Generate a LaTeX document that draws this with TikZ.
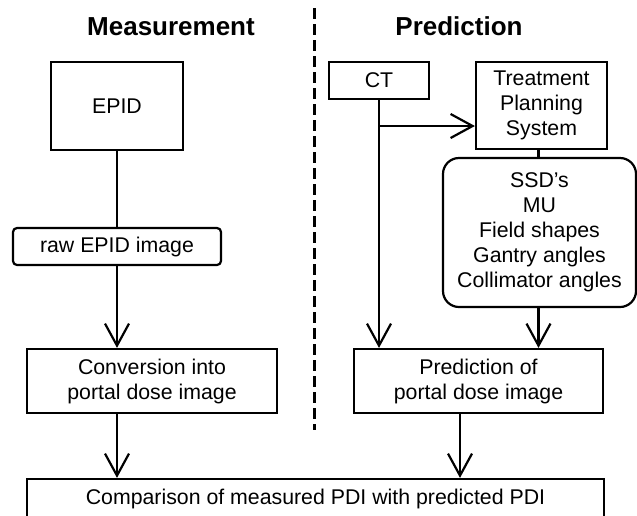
\documentclass[tikz,border=0pt]{standalone}
\usepackage{fontspec}
\setmainfont{Liberation Sans}
\usepackage{tikz}
\usetikzlibrary{arrows.meta}

\begin{document}
\begin{tikzpicture}[x=1pt, y=-1pt,
  box/.style={draw, line width=2.2pt, align=center, inner sep=0pt,
    font=\fontsize{21.3}{25}\selectfont},
  roundbox/.style={box, rounded corners=#1},
  arr/.style={line width=2.2pt,
    -{Straight Barb[length=22pt,width=24pt,line width=2.2pt]}},
  title/.style={font=\fontsize{26}{30}\selectfont\bfseries, anchor=base}]
\useasboundingbox (0,0) rectangle (637,515);

% headings and divider
\node[title] (meas) at (171,35) {Measurement};
\node[title] (pred) at (459,35) {Prediction};
\draw[line width=3pt, dash pattern=on 11pt off 5pt] (314,8) -- (314,430);

% measurement branch
\node[box, minimum width=132, minimum height=88] (epid) at (117,106) {EPID};
\node[roundbox=4pt, minimum width=208, minimum height=37] (raw) at (117,246.5) {raw EPID image};
\node[box, minimum width=250, minimum height=64] (conv) at (152,381)
  {Conversion into\\portal dose image};

% prediction branch
\node[box, minimum width=100, minimum height=37] (ct) at (379,80.5) {CT};
\node[box, minimum width=131, minimum height=87] (tps) at (541.5,105.5)
  {Treatment\\Planning\\System};
\node[roundbox=16pt, minimum width=193, minimum height=149] (plan) at (539.5,232.5)
  {SSD’s\\MU\\Field shapes\\Gantry angles\\Collimator angles};
\node[box, minimum width=249, minimum height=64] (pdi) at (478.5,381)
  {Prediction of\\portal dose image};

% comparison
\node[box, minimum width=577, minimum height=39] (comp) at (315.5,498.5)
  {Comparison of measured PDI with predicted PDI};

\draw[line width=2.2pt] (epid.south) -- (raw.north);
\draw[arr] (raw.south) -- (raw.south |- conv.north);
\draw[arr] (raw.south |- conv.south) -- (raw.south |- comp.north);

\coordinate (fork) at (379,126);
\draw[arr] (ct.south) -- (ct.south |- pdi.north);
\draw[arr] (fork) -- (fork -| tps.west);
\draw[line width=2.2pt] (tps.south) ++(-3,0) coordinate (t) -- (t |- plan.north);
\draw[arr] (t |- plan.south) -- (t |- pdi.north);
\draw[arr] ([xshift=-18.5pt]pdi.south) coordinate (p) -- (p |- comp.north);

\end{tikzpicture}
\end{document}
